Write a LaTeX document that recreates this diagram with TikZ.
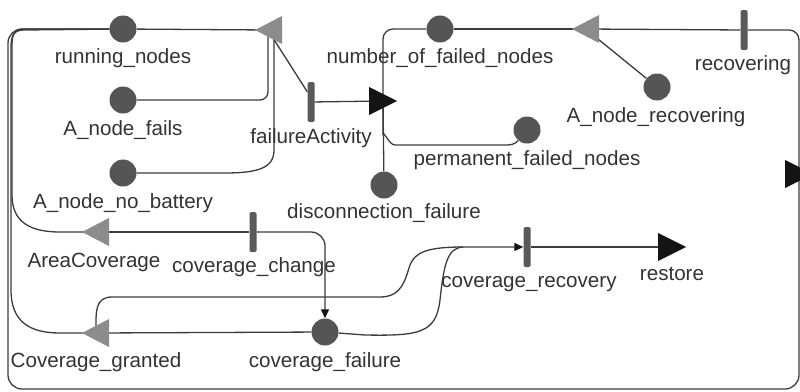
\documentclass[tikz,border=0pt]{standalone}
\usepackage{fontspec}
\setmainfont{Liberation Sans}
\usetikzlibrary{calc,arrows.meta,backgrounds}

\definecolor{wirecol}{HTML}{3C3C3C}
\definecolor{placefill}{HTML}{555555}
\definecolor{inputgate}{HTML}{8C8C8C}
\definecolor{outputgate}{HTML}{141414}
\definecolor{barfill}{HTML}{5A5A5A}
\definecolor{labeltext}{HTML}{333333}

\tikzset{
  wire/.style={draw=wirecol, line width=1.3pt},
  arcend/.style={-{Triangle[length=9pt,width=8pt,color=outputgate]}},
  place/.style={circle, fill=placefill, minimum size=27pt, inner sep=0pt},
  activity/.style={rectangle, fill=barfill, minimum width=7pt, minimum height=40pt,
    inner sep=0pt, rounded corners=1.5pt},
  lbl/.style={anchor=base, text=labeltext, inner sep=0pt, font=\fontsize{20.6}{24}\selectfont},
  ingate/.pic={\fill[inputgate] (-14,0) -- (13,-14) -- (13,14) -- cycle;
    \coordinate (-tip) at (-14,0); \coordinate (-base) at (13,0); \coordinate (-c) at (0,0);},
  outgate/.pic={\fill[outputgate] (14,0) -- (-14,-14) -- (-14,14) -- cycle;
    \coordinate (-tip) at (14,0); \coordinate (-base) at (-14,0); \coordinate (-c) at (0,0);},
}

\begin{document}
\begin{tikzpicture}[x=1pt, y=-1pt]
\useasboundingbox (0,0) rectangle (800,391);

% places
\node[place] (rn)  at (123,29)  {};
\node[place] (anf) at (123,100) {};
\node[place] (anb) at (123,173) {};
\node[place] (nfn) at (440,29)  {};
\node[place] (anr) at (657,87)  {};
\node[place] (pfn) at (527,130) {};
\node[place] (dcf) at (384,185) {};
\node[place] (cf)  at (325,332) {};

% activities
\node[activity] (fa)  at (311,102) {};
\node[activity] (rec) at (744,30)  {};
\node[activity] (cc)  at (253,232) {};
\node[activity] (cr)  at (527,247) {};

% gates
\pic (g1) at (269,30)  {ingate};
\pic (g2) at (383,101) {outgate};
\pic (g3) at (586,29)  {ingate};
\pic (g4) at (799,174) {outgate};
\pic (g5) at (96,232)  {ingate};
\pic (g6) at (96,333)  {ingate};
\pic (g7) at (672,247) {outgate};

\coordinate (llc)  at (8,389);
\coordinate (join) at (463,247);

% labels
\node[lbl] (t-rn)  at (123,63)  {running\_nodes};
\node[lbl] (t-anf) at (123,135) {A\_node\_fails};
\node[lbl] (t-anb) at (123,208) {A\_node\_no\_battery};
\node[lbl] (t-fa)  at (311,143) {failureActivity};
\node[lbl] (t-nfn) at (440,63)  {number\_of\_failed\_nodes};
\node[lbl] (t-anr) at (656,122) {A\_node\_recovering};
\node[lbl] (t-pfn) at (527,165) {permanent\_failed\_nodes};
\node[lbl] (t-rec) at (743,70)  {recovering};
\node[lbl] (t-dcf) at (384,218) {disconnection\_failure};
\node[lbl] (t-g5)  at (94,267)  {AreaCoverage};
\node[lbl] (t-cc)  at (254,272) {coverage\_change};
\node[lbl] (t-g6)  at (96,367)  {Coverage\_granted};
\node[lbl] (t-cf)  at (325,367) {coverage\_failure};
\node[lbl] (t-cr)  at (529,287) {coverage\_recovery};
\node[lbl] (t-g7)  at (672,280) {restore};

\begin{scope}[on background layer]
\fill[white] (0,0) rectangle (800,391);

% failure activity and its input gate
\draw[wire] (rn) -- (g1-c);
\draw[wire, rounded corners=8] (anf) -| ($(g1-c)+(-1,0)$);
\draw[wire] (anb) -- (225,173) .. controls (258,173) and (274,168) .. (274,150) -- ($(g1-c)+(5,0)$);
\draw[wire] ($(fa.north west)+(0,10)$) -- ($(g1-c)+(4,8)$);
\draw[wire] (fa) -- (g2-c);

% failure output gate
\draw[wire, rounded corners=10] (g2-c) |- (nfn);
\draw[wire] (g2-c) -- (383,135) to[out=90,in=180] (395,145) -- (505,145) to[out=0,in=-130] (pfn);
\draw[wire] (g2-c) -- (dcf);

% recovery activity
\draw[wire] (nfn) -- (g3-c);
\draw[wire] (anr) -- ($(g3-c)+(12,10)$);
\draw[wire] (rec) -- (g3-c);
\draw[wire, rounded corners=10] (rec) -| (g4-c);
\draw[wire, rounded corners=14] (g4-c) |- (llc) |- (rn);

% coverage predicates on running_nodes
\draw[wire] (rn) -- (26,29) .. controls (15,29) and (12,33) .. (12,45) -- (12,195)
  .. controls (12,222) and (30,232) .. (60,232) -- (g5-c);
\draw[wire] (rn) -- (24,30) .. controls (14,30) and (11,35) .. (11,48) -- (11,290)
  .. controls (11,322) and (30,333) .. (60,333) -- (g6-c);

% coverage activities
\draw[wire] (g5-c) -- (cc);
\draw[wire, arcend, rounded corners=14] (cc) -| (cf.north);
\draw[wire] (g6-c) -- (cf);
\draw[wire, arcend] (cf) -- (365,335) .. controls (420,336) and (436,333) .. (440,300)
  .. controls (444,262) and (448,248) .. (join) -- (cr.west);
\draw[wire] ($(g6-c)+(0,-4)$) .. controls (96,312) and (95,297) .. (112,297) -- (380,297)
  .. controls (402,297) and (405,280) .. (410,265) .. controls (415,252) and (428,247) .. (join);
\draw[wire] (cr) -- (g7-c);
\end{scope}
\end{tikzpicture}
\end{document}
